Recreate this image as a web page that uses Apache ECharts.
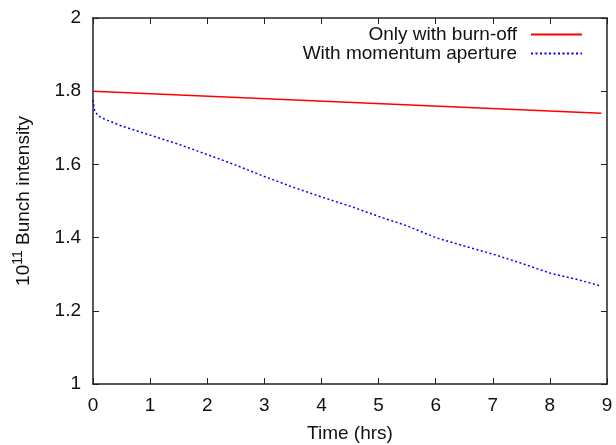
<!DOCTYPE html>
<html>
<head>
<meta charset="utf-8">
<script src="https://cdn.jsdelivr.net/npm/echarts@6/dist/echarts.min.js"></script>
<style>
  html, body { margin: 0; padding: 0; background: #fff; }
  #main { width: 616px; height: 445px; }
</style>
</head>
<body>
<div id="main"></div>
<script>
// 数据
var burnTime = [0, 8.9];
var burnVal = [1.800, 1.740];

var apTime = [0, 0.03, 0.1, 0.2, 0.5, 1, 1.5, 2, 2.5, 3, 3.5, 4, 4.5, 5, 5.5, 6, 6.5, 7, 7.5, 8, 8.5, 8.9];
var apVal = [1.776, 1.745, 1.732, 1.724, 1.705, 1.680, 1.655, 1.627, 1.598, 1.567, 1.538, 1.511, 1.486, 1.458, 1.432, 1.400, 1.377, 1.355, 1.330, 1.303, 1.285, 1.267];

var seriesNames = ['Only with burn-off', 'With momentum aperture'];

function pairs(xs, ys) {
	var out = [];
	for (var i = 0; i < xs.length; i++) {
		out.push([xs[i], ys[i]]);
	}
	return out;
}

var chart = echarts.init(document.getElementById('main'));
var font = 'Liberation Sans, Arial, sans-serif';
var frame = {show: true, onZero: false, lineStyle: {color: '#222', width: 1.5}};

var option = {
	animation: false,
	grid: {left: 93, right: 9, top: 18, bottom: 61, outerBoundsMode: 'none'},
	legend: {
		orient: 'vertical',
		align: 'right',
		right: 33,
		top: 25,
		padding: 0,
		itemGap: 0,
		itemWidth: 51,
		itemHeight: 10,
		itemStyle: {opacity: 0},
		textStyle: {fontFamily: font, fontSize: 19, color: '#111', lineHeight: 19, padding: [0, 9, 0, 0]},
		data: seriesNames
	},
	xAxis: [
		{
			type: 'value', min: 0, max: 9, interval: 1,
			name: 'Time (hrs)', nameLocation: 'middle', nameGap: 40,
			nameTextStyle: {fontFamily: font, fontSize: 19, color: '#111'},
			axisLine: frame,
			axisTick: {show: true, inside: true, length: 6, lineStyle: {color: '#222'}},
			axisLabel: {fontFamily: font, fontSize: 19, color: '#111', margin: 12},
			splitLine: {show: false}
		},
		{
			type: 'value', min: 0, max: 9, interval: 1, position: 'top',
			axisLine: frame,
			axisTick: {show: true, inside: true, length: 6, lineStyle: {color: '#222'}},
			axisLabel: {show: false},
			splitLine: {show: false}
		}
	],
	yAxis: [
		{
			type: 'value', min: 1, max: 2, interval: 0.2,
			name: '{n|10}{sup|11}{n| Bunch intensity}', nameLocation: 'middle', nameGap: 57, nameRotate: 90,
			nameTextStyle: {
				rich: {
					n: {fontFamily: font, fontSize: 19, color: '#111'},
					sup: {fontFamily: font, fontSize: 14, color: '#111', verticalAlign: 'bottom', padding: [0, 0, 11, 0]}
				}
			},
			axisLine: frame,
			axisTick: {show: true, inside: true, length: 6, lineStyle: {color: '#222'}},
			axisLabel: {fontFamily: font, fontSize: 19, color: '#111', margin: 12},
			splitLine: {show: false}
		},
		{
			type: 'value', min: 1, max: 2, interval: 0.2, position: 'right',
			axisLine: frame,
			axisTick: {show: true, inside: true, length: 6, lineStyle: {color: '#222'}},
			axisLabel: {show: false},
			splitLine: {show: false}
		}
	],
	series: [
		{
			name: seriesNames[0],
			type: 'line',
			symbol: 'none',
			lineStyle: {color: '#ff0000', width: 1.5},
			itemStyle: {color: '#ff0000'},
			data: pairs(burnTime, burnVal)
		},
		{
			name: seriesNames[1],
			type: 'line',
			symbol: 'none',
			lineStyle: {color: '#0000ff', width: 1.5, type: [2, 2.5]},
			itemStyle: {color: '#0000ff'},
			data: pairs(apTime, apVal)
		}
	]
};

chart.setOption(option);
</script>
</body>
</html>
